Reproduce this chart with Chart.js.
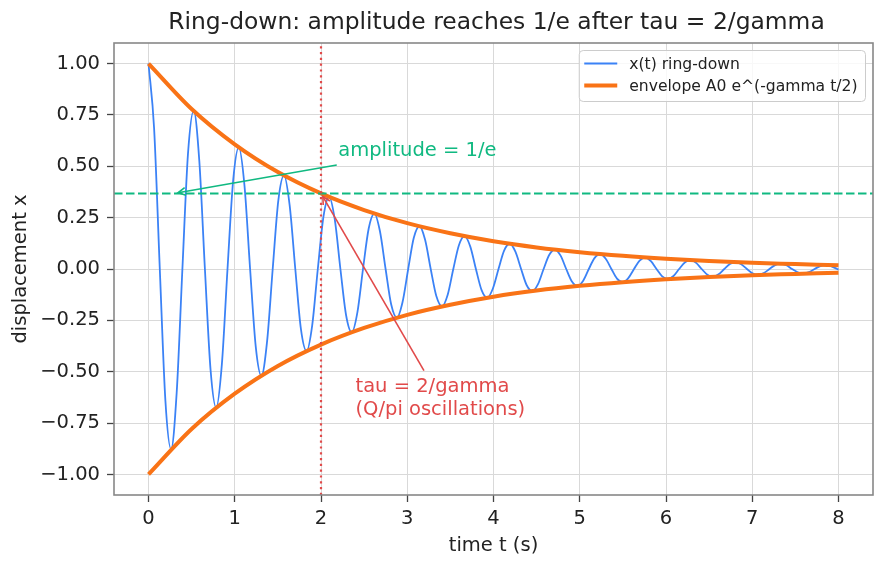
<!DOCTYPE html>
<html>
<head>
<meta charset="utf-8">
<script src="https://cdn.jsdelivr.net/npm/chart.js@4.4.1/dist/chart.umd.min.js"></script>
<style>
  html, body { margin: 0; padding: 0; background: #ffffff; }
  #wrap { width: 887px; height: 569px; }
</style>
</head>
<body>
<div id="wrap"><canvas id="c" width="887" height="569"></canvas></div>
<script>
// ---- data ----
const timeSamples = [
  0.000, 0.065, 0.131, 0.196, 0.262, 0.327, 0.393, 0.458,
  0.524, 0.589, 0.654, 0.720, 0.785, 0.851, 0.916, 0.982,
  1.047, 1.113, 1.178, 1.244, 1.309, 1.374, 1.440, 1.505,
  1.571, 1.636, 1.702, 1.767, 1.833, 1.898, 1.963, 2.029,
  2.094, 2.160, 2.225, 2.291, 2.356, 2.422, 2.487, 2.553,
  2.618, 2.683, 2.749, 2.814, 2.880, 2.945, 3.011, 3.076,
  3.142, 3.207, 3.272, 3.338, 3.403, 3.469, 3.534, 3.600,
  3.665, 3.731, 3.796, 3.862, 3.927, 3.992, 4.058, 4.123,
  4.189, 4.254, 4.320, 4.385, 4.451, 4.516, 4.581, 4.647,
  4.712, 4.778, 4.843, 4.909, 4.974, 5.040, 5.105, 5.171,
  5.236, 5.301, 5.367, 5.432, 5.498, 5.563, 5.629, 5.694,
  5.760, 5.825, 5.890, 5.956, 6.021, 6.087, 6.152, 6.218,
  6.283, 6.349, 6.414, 6.480, 6.545, 6.610, 6.676, 6.741,
  6.807, 6.872, 6.938, 7.003, 7.069, 7.134, 7.199, 7.265,
  7.330, 7.396, 7.461, 7.527, 7.592, 7.658, 7.723, 7.789,
  7.854, 7.919, 7.985, 8.000
];
const ringdownValues = [
  1.000, 0.684, 0, -0.641, -0.877, -0.600, 0, 0.562,
  0.770, 0.527, 0, -0.493, -0.675, -0.462, 0, 0.433,
  0.592, 0.405, 0, -0.380, -0.520, -0.356, 0, 0.333,
  0.456, 0.312, 0, -0.292, -0.400, -0.274, 0, 0.256,
  0.351, 0.240, 0, -0.225, -0.308, -0.211, 0, 0.197,
  0.270, 0.185, 0, -0.173, -0.237, -0.162, 0, 0.152,
  0.208, 0.142, 0, -0.133, -0.182, -0.125, 0, 0.117,
  0.160, 0.109, 0, -0.103, -0.140, -0.096, 0, 0.090,
  0.123, 0.084, 0, -0.079, -0.108, -0.074, 0, 0.069,
  0.095, 0.065, 0, -0.061, -0.083, -0.057, 0, 0.053,
  0.073, 0.050, 0, -0.047, -0.064, -0.044, 0, 0.041,
  0.056, 0.038, 0, -0.036, -0.049, -0.034, 0, 0.032,
  0.043, 0.030, 0, -0.028, -0.038, -0.026, 0, 0.024,
  0.033, 0.023, 0, -0.021, -0.029, -0.020, 0, 0.019,
  0.026, 0.018, 0, -0.016, -0.022, -0.015, 0, 0.014,
  0.020, 0.013, 0, -0.003
];
const envelopeTimes = [0, 0.5, 1, 1.5, 2, 2.5, 3, 3.5, 4, 4.5, 5, 5.5, 6, 6.5, 7, 7.5, 8];
const envelopeUpper = [1.000, 0.779, 0.607, 0.472, 0.368, 0.287, 0.223, 0.174, 0.135, 0.105, 0.082, 0.064, 0.050, 0.039, 0.030, 0.024, 0.018];
const envelopeLower = [-1.000, -0.779, -0.607, -0.472, -0.368, -0.287, -0.223, -0.174, -0.135, -0.105, -0.082, -0.064, -0.050, -0.039, -0.030, -0.024, -0.018];
const xTickValues = [0, 1, 2, 3, 4, 5, 6, 7, 8];
const yTickValues = [-1.00, -0.75, -0.50, -0.25, 0.00, 0.25, 0.50, 0.75, 1.00];
const xLimits = [-0.4, 8.4];
const yLimits = [-1.1, 1.1];
const oneOverE = 0.368;
const tauValue = 2;
const seriesLabels = ['x(t) ring-down', 'envelope A0 e^(-gamma t/2)'];
const titleText = 'Ring-down: amplitude reaches 1/e after tau = 2/gamma';
const xAxisLabel = 'time t (s)';
const yAxisLabel = 'displacement x';
const annotationGreen = { lines: ['amplitude = 1/e'], at: [2.2, 0.55], target: [0.3, oneOverE] };
const annotationRed = { lines: ['tau = 2/gamma', '(Q/pi oscillations)'], at: [2.4, -0.6], target: [tauValue, oneOverE] };

// ---- styling ----
const FONT = "'DejaVu Sans', 'Liberation Sans', sans-serif";
const C_BLUE = '#3b82f6', C_ORANGE = '#f97316', C_GREEN = '#10b981', C_RED = '#e14a4a';
const TXT = '#222222';
const FS = 19.5;

Chart.defaults.font.family = FONT;
Chart.defaults.color = TXT;

function pts(xs, ys) { return xs.map((v, i) => ({ x: v, y: ys[i] })); }

const overlay = {
  id: 'overlay',
  afterDatasetsDraw(chart) {
    const { ctx, chartArea: ca, scales } = chart;
    const xs = scales.x, ys = scales.y;
    ctx.save();
    // frame (spines)
    ctx.strokeStyle = '#888888';
    ctx.lineWidth = 1.6;
    ctx.strokeRect(ca.left, ca.top, ca.right - ca.left, ca.bottom - ca.top);
    // annotations
    drawAnnotation(ctx, xs, ys, annotationGreen, C_GREEN);
    drawAnnotation(ctx, xs, ys, annotationRed, C_RED);
    // legend
    drawLegend(ctx, ca);
    // title centred over the axes
    ctx.font = '23.4px ' + FONT;
    ctx.fillStyle = TXT;
    ctx.textAlign = 'center';
    ctx.textBaseline = 'middle';
    ctx.fillText(titleText, (ca.left + ca.right) / 2 + 3, 23);
    ctx.restore();
  }
};

function drawAnnotation(ctx, xs, ys, a, color) {
  const lh = 23;
  ctx.font = FS + 'px ' + FONT;
  ctx.fillStyle = color;
  ctx.textAlign = 'left';
  ctx.textBaseline = 'alphabetic';
  const x0 = xs.getPixelForValue(a.at[0]);
  const y0 = ys.getPixelForValue(a.at[1]);
  let w = 0;
  a.lines.forEach((s, i) => {
    ctx.fillText(s, x0, y0 + i * lh);
    w = Math.max(w, ctx.measureText(s).width);
  });
  const pad = 3.7;
  const L = x0 - pad, R = x0 + w + pad;
  const T = y0 - 0.76 * FS - pad, B = y0 + (a.lines.length - 1) * lh + 0.24 * FS + pad;
  const cx = (L + R) / 2, cy = (T + B) / 2;
  const tx = xs.getPixelForValue(a.target[0]);
  const ty = ys.getPixelForValue(a.target[1]);
  const dx = tx - cx, dy = ty - cy;
  const len = Math.hypot(dx, dy);
  const ux = dx / len, uy = dy / len;
  const s = Math.min(dx !== 0 ? (R - L) / 2 / Math.abs(dx) : Infinity,
                     dy !== 0 ? (B - T) / 2 / Math.abs(dy) : Infinity);
  const sx = cx + dx * s + ux * 3.7, sy = cy + dy * s + uy * 3.7;
  const ex = tx - ux * 3.7, ey = ty - uy * 3.7;
  ctx.strokeStyle = color;
  ctx.lineWidth = 1.6;
  ctx.lineCap = 'butt';
  ctx.beginPath();
  ctx.moveTo(sx, sy);
  ctx.lineTo(ex, ey);
  ctx.stroke();
  const hl = 7.4, hw = 3.9;
  ctx.beginPath();
  ctx.moveTo(ex - hl * ux + hw * uy, ey - hl * uy - hw * ux);
  ctx.lineTo(ex, ey);
  ctx.lineTo(ex - hl * ux - hw * uy, ey - hl * uy + hw * ux);
  ctx.stroke();
}

function drawLegend(ctx, ca) {
  const lfs = 15.6;
  ctx.font = lfs + 'px ' + FONT;
  const tw = Math.max(...seriesLabels.map(s => ctx.measureText(s).width));
  const right = ca.right - 7.5, top = ca.top + 7.5;
  const w = 5 + 33 + 12 + tw + 8, h = 51;
  const left = right - w;
  const r = 4;
  ctx.beginPath();
  ctx.moveTo(left + r, top);
  ctx.lineTo(right - r, top);
  ctx.arcTo(right, top, right, top + r, r);
  ctx.lineTo(right, top + h - r);
  ctx.arcTo(right, top + h, right - r, top + h, r);
  ctx.lineTo(left + r, top + h);
  ctx.arcTo(left, top + h, left, top + h - r, r);
  ctx.lineTo(left, top + r);
  ctx.arcTo(left, top, left + r, top, r);
  ctx.closePath();
  ctx.fillStyle = 'rgba(255,255,255,0.8)';
  ctx.fill();
  ctx.strokeStyle = '#cccccc';
  ctx.lineWidth = 1;
  ctx.stroke();
  const colors = [C_BLUE, C_ORANGE];
  const widths = [1.8, 4];
  ctx.textAlign = 'left';
  ctx.textBaseline = 'middle';
  seriesLabels.forEach((s, i) => {
    const yy = top + 14 + i * 22;
    ctx.strokeStyle = colors[i];
    ctx.lineWidth = widths[i];
    ctx.beginPath();
    ctx.moveTo(left + 5, yy - 1);
    ctx.lineTo(left + 38, yy - 1);
    ctx.stroke();
    ctx.fillStyle = TXT;
    ctx.fillText(s, left + 50, yy);
  });
}

function fmtY(v) {
  const s = Math.abs(v).toFixed(2);
  return (v < -1e-9 ? '\u2212' : '') + s;
}

new Chart(document.getElementById('c'), {
  type: 'line',
  data: {
    datasets: [
      {
        label: 'tau marker',
        data: pts([tauValue, tauValue], yLimits),
        borderColor: C_RED, borderWidth: 2.2, borderDash: [2.2, 3.6],
        pointRadius: 0, order: 0, tension: 0
      },
      {
        label: '1/e level',
        data: pts(xLimits, [oneOverE, oneOverE]),
        borderColor: C_GREEN, borderWidth: 2, borderDash: [8.5, 3.5],
        pointRadius: 0, order: 1, tension: 0
      },
      {
        label: seriesLabels[1],
        data: pts(envelopeTimes, envelopeUpper),
        borderColor: C_ORANGE, borderWidth: 4, pointRadius: 0,
        cubicInterpolationMode: 'monotone', order: 2
      },
      {
        label: seriesLabels[1] + ' (lower)',
        data: pts(envelopeTimes, envelopeLower),
        borderColor: C_ORANGE, borderWidth: 4, pointRadius: 0,
        cubicInterpolationMode: 'monotone', order: 3
      },
      {
        label: seriesLabels[0],
        data: pts(timeSamples, ringdownValues),
        borderColor: C_BLUE, borderWidth: 1.8, pointRadius: 0,
        cubicInterpolationMode: 'monotone', order: 4
      }
    ]
  },
  options: {
    responsive: false,
    animation: false,
    devicePixelRatio: 1,
    layout: { padding: { left: 0, right: 14, top: 43, bottom: 0 } },
    plugins: {
      legend: { display: false },
      tooltip: { enabled: false },
      title: { display: false }
    },
    scales: {
      x: {
        type: 'linear',
        min: xLimits[0], max: xLimits[1],
        afterBuildTicks: (s) => { s.ticks = xTickValues.map(v => ({ value: v })); },
        afterFit: (s) => { s.height = 74; },
        ticks: {
          autoSkip: false, maxRotation: 0, padding: 5, color: TXT,
          font: { family: FONT, size: FS },
          callback: (v) => String(v)
        },
        grid: { color: '#d9d9d9', lineWidth: 1, tickLength: 7, tickColor: '#444444', tickWidth: 1.3 },
        border: { display: false },
        title: {
          display: true, text: xAxisLabel, color: TXT,
          font: { family: FONT, size: FS }, padding: { top: 0, bottom: 11.3 }
        }
      },
      y: {
        type: 'linear',
        min: yLimits[0], max: yLimits[1],
        afterBuildTicks: (s) => { s.ticks = yTickValues.map(v => ({ value: v })); },
        afterFit: (s) => { s.width = 114; },
        ticks: {
          autoSkip: false, padding: 7, color: TXT,
          font: { family: FONT, size: FS },
          callback: (v) => fmtY(v)
        },
        grid: { color: '#d9d9d9', lineWidth: 1, tickLength: 7, tickColor: '#444444', tickWidth: 1.3 },
        border: { display: false },
        title: {
          display: true, text: yAxisLabel, color: TXT,
          font: { family: FONT, size: FS }, padding: { top: 9, bottom: 0 }
        }
      }
    }
  },
  plugins: [overlay]
});
</script>
</body>
</html>
